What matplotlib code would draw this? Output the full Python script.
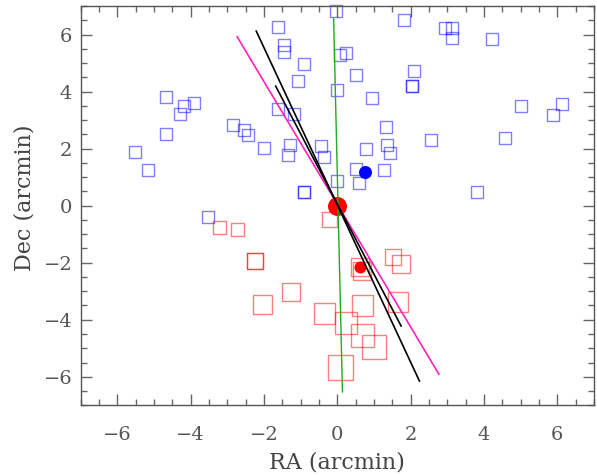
import numpy as np
import matplotlib
matplotlib.use("Agg")
import matplotlib.pyplot as plt
from matplotlib.ticker import MultipleLocator

# open blue squares (background field objects)
blue_x = [-1.63, -1.46, -1.44, -0.90, -1.06, -4.66, -4.17, -3.92, -4.28, -1.63,
          -1.19, -2.84, -2.55, -2.43, -4.68, -1.99, -1.30, -1.35, -0.44, -0.35,
          -5.53, -5.15, -0.92, -0.92, -0.03, 0.00, 0.08, 0.25, -3.52, 1.83,
          2.94, 3.12, 3.13, 4.22, 0.52, 2.08, 2.04, 2.04, 0.95, 5.02,
          6.13, 5.88, 1.34, 0.79, 1.35, 1.44, 2.55, 4.57, 0.52, 1.26,
          0.59, 0.00, 3.81]
blue_y = [6.28, 5.63, 5.40, 4.95, 4.38, 3.82, 3.51, 3.60, 3.20, 3.39,
          3.22, 2.83, 2.66, 2.47, 2.51, 2.03, 2.14, 1.79, 2.10, 1.70,
          1.88, 1.25, 0.48, 0.48, 6.83, 4.07, 5.30, 5.37, -0.38, 6.52,
          6.22, 6.24, 5.89, 5.84, 4.59, 4.71, 4.19, 4.19, 3.77, 3.49,
          3.56, 3.18, 2.76, 2.00, 2.12, 1.84, 2.31, 2.36, 1.27, 1.25,
          0.80, 0.85, 0.49]

# open red squares, side in pixels
red_x = [-3.22, -2.72, -2.24, -2.24, -2.05, -1.26, -0.21, 0.63, 0.68, 1.52,
         1.74, 1.65, 0.68, -0.34, 0.23, 0.68, 1.01, 0.10]
red_y = [-0.75, -0.82, -1.93, -1.93, -3.47, -3.04, -0.49, -2.14, -2.30, -1.79,
         -2.05, -3.37, -3.51, -3.79, -4.10, -4.55, -4.95, -5.68]
red_size = [13, 13, 16, 16, 19, 18, 15, 18, 18, 16,
            18, 20, 21, 21, 22, 23, 24, 25]

# filled centroids
cen_red = (0.0, 0.0)
cen_red_small = (0.61, -2.14)
cen_blue = (0.76, 1.17)

# axis lines (end points)
green_line = ([-0.10, 0.14], [6.55, -6.53])
magenta_line = ([-2.73, 2.77], [5.92, -5.91])
black_long = ([-2.21, 2.24], [6.12, -6.15])
black_short = ([-1.68, 1.74], [4.19, -4.22])

blue_px = 12
px2pt = 0.72

fig = plt.figure(figsize=(5.97, 4.75), dpi=100)
ax = fig.add_axes([0.135, 0.1467, 0.860, 0.8406])

ax.scatter(blue_x, blue_y, marker='s', s=(blue_px * px2pt) ** 2,
           facecolors='none', edgecolors='blue', alpha=0.5, linewidths=1.0,
           clip_on=False, zorder=2)
ax.scatter(red_x, red_y, marker='s', s=(np.array(red_size) * px2pt) ** 2,
           facecolors='none', edgecolors='red', alpha=0.5, linewidths=1.0,
           zorder=2)

ax.plot(*cen_red, 'o', color='red', ms=19 * px2pt, mec='none', zorder=3)
ax.plot(*cen_red_small, 'o', color='red', ms=12 * px2pt, mec='none', zorder=3)
ax.plot(*cen_blue, 'o', color='blue', ms=13 * px2pt, mec='none', zorder=3)

ax.plot(*green_line, color='#22aa22', lw=1.0, zorder=4)
ax.plot(*magenta_line, color='#ff22bb', lw=1.2, zorder=4)
ax.plot(*black_long, color='black', lw=1.2, zorder=4)
ax.plot(*black_short, color='black', lw=1.2, zorder=4)

ax.set_xlim(-7, 7)
ax.set_ylim(-7, 7)
ax.xaxis.set_major_locator(MultipleLocator(2))
ax.xaxis.set_minor_locator(MultipleLocator(0.5))
ax.yaxis.set_major_locator(MultipleLocator(2))
ax.yaxis.set_minor_locator(MultipleLocator(0.5))
ax.tick_params(which='both', direction='in', top=True, right=True,
               color='#666666', width=1.0)
ax.tick_params(which='major', length=8)
ax.tick_params(which='minor', length=4)
ax.tick_params(axis='x', which='major', pad=15)
ax.tick_params(axis='y', which='major', pad=6)
for lab in ax.get_xticklabels() + ax.get_yticklabels():
    lab.set_fontfamily('DejaVu Serif')
    lab.set_fontsize(14)
    lab.set_color('#555555')
for sp in ax.spines.values():
    sp.set_color('#555555')
    sp.set_linewidth(1.0)

ax.set_xlabel('RA (arcmin)', family='DejaVu Serif', fontsize=16, color='#444444')
ax.set_ylabel('Dec (arcmin)', family='DejaVu Serif', fontsize=16, color='#444444')
ax.xaxis.set_label_coords(0.5, -0.115)
ax.yaxis.set_label_coords(-0.088, 0.52)

fig.savefig('out.png', dpi=100)
